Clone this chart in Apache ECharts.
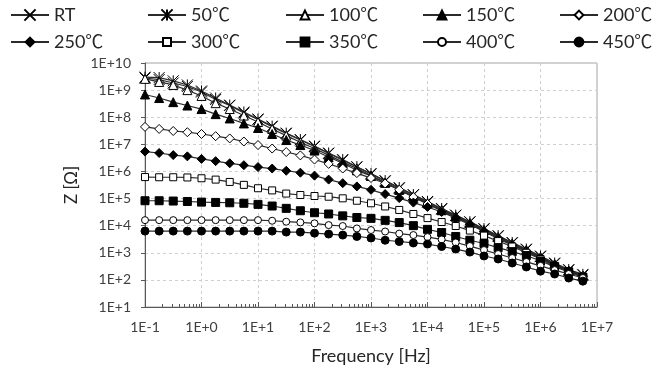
<!DOCTYPE html>
<html>
<head>
<meta charset="utf-8">
<script src="https://cdn.jsdelivr.net/npm/echarts@6/dist/echarts.min.js"></script>
<style>
html, body { margin: 0; padding: 0; background: #fff; }
#chart { width: 659px; height: 372px; }
</style>
</head>
<body>
<div id="chart"></div>
<script>
// frequency points, 4 per decade
const freq = [0.1, 0.178, 0.316, 0.562, 1, 1.78, 3.16, 5.62, 10, 17.8, 31.6, 56.2,
  100, 178, 316, 562, 1e3, 1.78e3, 3.16e3, 5.62e3, 1e4, 1.78e4, 3.16e4, 5.62e4,
  1e5, 1.78e5, 3.16e5, 5.62e5, 1e6, 1.78e6, 3.16e6, 5.62e6];

const seriesNames = ['RT', '50℃', '100℃', '150℃', '200℃', '250℃', '300℃', '350℃', '400℃', '450℃'];

// impedance Z [ohm]
const zRT = [2.8e9, 2.45e9, 1.83e9, 1.36e9, 8.5e8, 4.5e8, 2.7e8, 1.43e8, 8.2e7, 4.5e7, 2.5e7, 1.44e7,
  8.3e6, 4.6e6, 2.6e6, 1.45e6, 8.0e5, 4.4e5, 2.4e5, 1.35e5, 7.4e4, 4.1e4, 2.4e4, 1.36e4,
  7.5e3, 4.1e3, 2.3e3, 1.3e3, 7.2e2, 4.0e2, 2.3e2, 1.5e2];
const z50 = [3.0e9, 2.9e9, 2.2e9, 1.55e9, 9.3e8, 5.1e8, 2.8e8, 1.55e8, 8.6e7, 4.7e7, 2.6e7, 1.5e7,
  8.7e6, 4.8e6, 2.75e6, 1.5e6, 8.4e5, 4.6e5, 2.55e5, 1.4e5, 7.8e4, 4.3e4, 2.45e4, 1.4e4,
  7.8e3, 4.3e3, 2.4e3, 1.37e3, 7.6e2, 4.2e2, 2.4e2, 1.6e2];
const z100 = [2.6e9, 2.0e9, 1.55e9, 1.0e9, 6.1e8, 3.3e8, 2.0e8, 1.15e8, 6.7e7, 3.7e7, 2.1e7, 1.2e7,
  7.0e6, 4.0e6, 2.2e6, 1.3e6, 7.0e5, 3.9e5, 2.15e5, 1.2e5, 6.8e4, 3.8e4, 2.2e4, 1.25e4,
  6.9e3, 3.8e3, 2.2e3, 1.26e3, 6.9e2, 3.8e2, 2.2e2, 1.45e2];
const z150 = [6.9e8, 5.1e8, 3.6e8, 2.7e8, 2.0e8, 1.3e8, 9.0e7, 5.9e7, 4.0e7, 2.4e7, 1.44e7, 9.4e6,
  5.9e6, 3.4e6, 2.0e6, 1.1e6, 6.8e5, 3.8e5, 2.1e5, 1.18e5, 6.6e4, 3.7e4, 2.15e4, 1.22e4,
  6.8e3, 3.7e3, 2.15e3, 1.23e3, 6.8e2, 3.7e2, 2.15e2, 1.4e2];
const z200 = [4.4e7, 3.7e7, 3.1e7, 2.8e7, 2.4e7, 2.0e7, 1.65e7, 1.27e7, 9.4e6, 7.0e6, 5.2e6, 3.9e6,
  2.75e6, 1.9e6, 1.28e6, 8.7e5, 5.7e5, 3.6e5, 2.1e5, 1.13e5, 6.3e4, 3.5e4, 2.0e4, 1.15e4,
  6.3e3, 3.5e3, 2.0e3, 1.15e3, 6.4e2, 3.5e2, 2.1e2, 1.4e2];
const z250 = [5.4e6, 4.8e6, 4.0e6, 3.6e6, 2.9e6, 2.4e6, 2.0e6, 1.7e6, 1.45e6, 1.28e6, 1.06e6, 9.0e5,
  7.0e5, 5.0e5, 3.7e5, 2.8e5, 2.1e5, 1.46e5, 1.04e5, 7.1e4, 4.9e4, 3.2e4, 1.9e4, 1.1e4,
  6.1e3, 3.3e3, 1.9e3, 1.1e3, 6.1e2, 3.4e2, 2.0e2, 1.3e2];
const z300 = [6.2e5, 6.1e5, 6.1e5, 6.0e5, 5.6e5, 5.0e5, 4.1e5, 3.2e5, 2.4e5, 2.0e5, 1.53e5, 1.35e5,
  1.24e5, 1.17e5, 1.02e5, 8.3e4, 6.7e4, 5.1e4, 3.8e4, 2.7e4, 1.9e4, 1.36e4, 9.7e3, 6.6e3,
  4.3e3, 2.7e3, 1.7e3, 1.0e3, 5.9e2, 3.2e2, 1.95e2, 1.27e2];
const z350 = [8.3e4, 8.3e4, 8.1e4, 7.8e4, 7.4e4, 7.2e4, 7.0e4, 6.7e4, 6.1e4, 5.3e4, 4.35e4, 3.55e4,
  3.0e4, 2.7e4, 2.3e4, 2.0e4, 1.86e4, 1.57e4, 1.3e4, 1.0e4, 7.3e3, 5.6e3, 4.0e3, 2.9e3,
  2.2e3, 1.55e3, 1.1e3, 7.9e2, 5.0e2, 3.1e2, 2.0e2, 1.27e2];
const z400 = [1.6e4, 1.6e4, 1.6e4, 1.6e4, 1.6e4, 1.6e4, 1.6e4, 1.6e4, 1.6e4, 1.52e4, 1.4e4, 1.32e4,
  1.22e4, 1.05e4, 9.7e3, 7.9e3, 6.9e3, 6.1e3, 5.1e3, 4.5e3, 3.8e3, 3.1e3, 2.4e3, 1.77e3,
  1.26e3, 9.0e2, 6.4e2, 4.6e2, 3.3e2, 2.3e2, 1.65e2, 1.17e2];
const z450 = [6.3e3, 6.3e3, 6.3e3, 6.3e3, 6.3e3, 6.3e3, 6.3e3, 6.3e3, 6.3e3, 6.3e3, 5.8e3, 5.8e3,
  5.3e3, 4.9e3, 4.5e3, 4.0e3, 3.5e3, 2.9e3, 2.6e3, 2.3e3, 2.1e3, 1.7e3, 1.37e3, 1.06e3,
  7.6e2, 5.9e2, 4.2e2, 3.0e2, 2.1e2, 1.65e2, 1.17e2, 90];

const xTickLabels = ['1E-1', '1E+0', '1E+1', '1E+2', '1E+3', '1E+4', '1E+5', '1E+6', '1E+7'];
const yTickLabels = ['1E+1', '1E+2', '1E+3', '1E+4', '1E+5', '1E+6', '1E+7', '1E+8', '1E+9', '1E+10'];

const zData = [zRT, z50, z100, z150, z200, z250, z300, z350, z400, z450];

const fontFamily = "Lato, 'Noto Sans CJK JP', sans-serif";
const crossPath = 'path://M0,0L10,10M10,0L0,10';
const starPath = 'path://M0,0L10,10M10,0L0,10M5,0L5,10';

// marker look per series
const marks = [
  { symbol: crossPath, size: 11, fill: '#000', legendH: 14 },
  { symbol: starPath, size: 11, fill: '#000', legendH: 14 },
  { symbol: 'triangle', size: 9, fill: '#fff', legendH: 11 },
  { symbol: 'triangle', size: 9, fill: '#000', legendH: 11 },
  { symbol: 'diamond', size: 9, fill: '#fff', legendH: 11 },
  { symbol: 'diamond', size: 9, fill: '#000', legendH: 11 },
  { symbol: 'rect', size: 7, fill: '#fff', legendH: 10 },
  { symbol: 'rect', size: 8, fill: '#000', legendH: 11 },
  { symbol: 'circle', size: 7, fill: '#fff', legendH: 10 },
  { symbol: 'circle', size: 8, fill: '#000', legendH: 11 }
];

let chart = echarts.init(document.getElementById('chart'));

const series = seriesNames.map((name, i) => ({
  name: name,
  type: 'line',
  data: freq.map((f, j) => [f, zData[i][j]]),
  symbol: marks[i].symbol,
  symbolSize: marks[i].size,
  showAllSymbol: true,
  lineStyle: { color: '#2b2b2b', width: 1.2 },
  itemStyle: { color: marks[i].fill, borderColor: '#000', borderWidth: 1 },
  z: 3 + i
}));

// log minor ticks (2..9 in every decade) along the bottom axis
const minorTicks = [];
for (let d = -1; d < 7; d++) {
  for (let m = 2; m <= 9; m++) minorTicks.push([m * Math.pow(10, d), 10]);
}
series.push({
  type: 'custom',
  silent: true,
  clip: false,
  z: 20,
  data: minorTicks,
  renderItem: function (params, api) {
    const p = api.coord([api.value(0), 10]);
    const x = Math.round(p[0]) + 0.5;
    return {
      type: 'line',
      shape: { x1: x, y1: p[1], x2: x, y2: p[1] - 3 },
      style: { stroke: '#595959', lineWidth: 1 }
    };
  }
});

// one legend per entry, laid out as 2 rows x 5 columns
const colX = [10, 147, 285, 422, 559];
const rowY = [5, 32];
const legends = seriesNames.map((name, i) => ({
  data: [name],
  left: colX[i % 5],
  top: rowY[Math.floor(i / 5)],
  padding: 0,
  itemWidth: 38,
  itemHeight: marks[i].legendH,
  textStyle: { fontFamily: fontFamily, fontSize: 18, color: '#262626', lineHeight: 20 }
}));

function expOf(v) { return Math.round(Math.log10(v)); }

const option = {
  animation: false,
  backgroundColor: '#fff',
  legend: legends,
  grid: { left: 145, right: 62, top: 63, bottom: 65, show: true, borderColor: '#a6a6a6', borderWidth: 1 },
  xAxis: {
    type: 'log',
    logBase: 10,
    min: 0.1,
    max: 1e7,
    splitNumber: 8,
    name: 'Frequency [Hz]',
    nameLocation: 'middle',
    nameGap: 40,
    nameTextStyle: { fontFamily: fontFamily, fontSize: 18, color: '#262626' },
    axisLine: { onZero: false, lineStyle: { color: '#595959' } },
    axisTick: { inside: true, length: 5, lineStyle: { color: '#595959' } },
    axisLabel: {
      fontFamily: fontFamily, fontSize: 14, color: '#404040', margin: 13,
      formatter: v => xTickLabels[expOf(v) + 1]
    },
    splitLine: { show: true, lineStyle: { type: [3, 3], color: '#cfcfcf' } }
  },
  yAxis: {
    type: 'log',
    logBase: 10,
    min: 10,
    max: 1e10,
    splitNumber: 9,
    name: 'Z [Ω]',
    nameLocation: 'middle',
    nameGap: 64,
    nameTextStyle: { fontFamily: fontFamily, fontSize: 17, color: '#262626' },
    axisLine: { onZero: false, lineStyle: { color: '#595959' } },
    axisTick: { show: true, length: 4, lineStyle: { color: '#595959' } },
    axisLabel: {
      fontFamily: fontFamily, fontSize: 14, color: '#404040', margin: 14,
      formatter: v => yTickLabels[expOf(v) - 1]
    },
    splitLine: { show: true, lineStyle: { type: [3, 3], color: '#cfcfcf' } }
  },
  series: series
};

chart.setOption(option);
</script>
</body>
</html>
